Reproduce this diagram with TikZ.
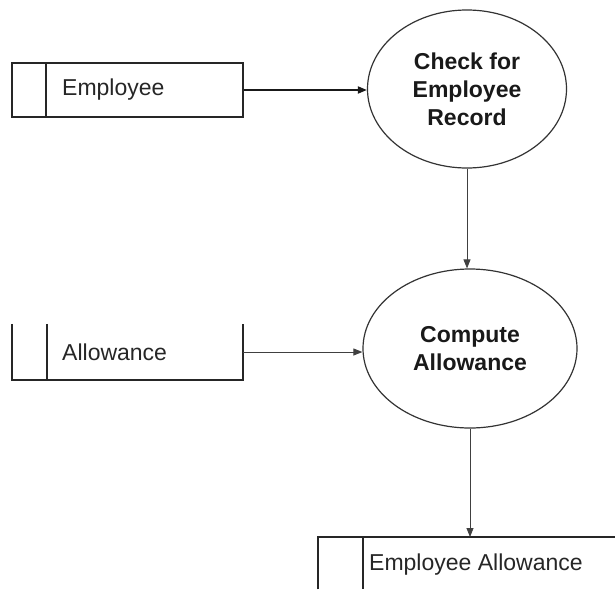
\documentclass[tikz,border=0pt]{standalone}
\usepackage{fontspec}
\setmainfont{Liberation Sans}
\usetikzlibrary{arrows.meta,shapes.geometric}

\tikzset{
  storeline/.style={line width=1.6pt, draw=black!85},
  process/.style={ellipse, draw=black!80, line width=1.2pt, inner sep=0pt,
    align=center, font=\fontsize{23}{28}\selectfont\bfseries, text=black!90},
  storetext/.style={anchor=west, inner sep=0pt, font=\fontsize{23}{28}\selectfont, text=black!85},
  flow/.style={-{Triangle[length=9pt,width=7pt]}, draw=black!75, line width=1pt},
  strongflow/.style={flow, draw=black!90, line width=1.8pt},
}

\begin{document}
\begin{tikzpicture}[x=1pt, y=-1pt]
  \useasboundingbox (0,0) rectangle (615,589);

  % data store: Employee (closed box)
  \node[draw, storeline, rectangle, minimum width=231pt, minimum height=54pt, inner sep=0pt]
    (emp) at (127.5,90) {};
  \draw[storeline] ([xshift=35pt]emp.north west) -- ([xshift=35pt]emp.south west);
  \node[storetext] (emptext) at (62,90) {Employee};

  % data store: Allowance (open top)
  \node[rectangle, minimum width=231pt, minimum height=56pt, inner sep=0pt]
    (alw) at (127.5,352) {};
  \draw[storeline] (alw.north west) -- (alw.south west) -- (alw.south east) -- (alw.north east);
  \draw[storeline] ([xshift=35pt]alw.north west) -- ([xshift=35pt]alw.south west);
  \node[storetext] (alwtext) at (62,352) {Allowance};

  % data store: Employee Allowance (runs off the right edge)
  \node[rectangle, anchor=north west, minimum width=297pt, minimum height=52pt, inner sep=0pt]
    (ea) at (318,537) {};
  \draw[storeline] (ea.south west) -- (ea.north west) -- (ea.north east);
  \draw[storeline] ([xshift=45pt]ea.north west) -- ([xshift=45pt]ea.south west);
  \node[storetext] (eatext) at (369,565) {Employee Allowance};

  % processes
  \node[process, minimum width=199pt, minimum height=158pt] (chk) at (467,89)
    {Check for\\Employee\\Record};
  \node[process, minimum width=214pt, minimum height=159pt] (cmp) at (470,348.5)
    {Compute\\Allowance};

  % data flows
  \draw[strongflow] (emp.east) -- (emp.east -| chk.west);
  \draw[flow] (alw.east) -- (alw.east -| cmp.west);
  \draw[flow, line width=0.8pt] (chk.south) -- (chk.south |- cmp.north);
  \draw[flow, line width=0.8pt] (cmp.south) -- (cmp.south |- ea.north);
\end{tikzpicture}
\end{document}
